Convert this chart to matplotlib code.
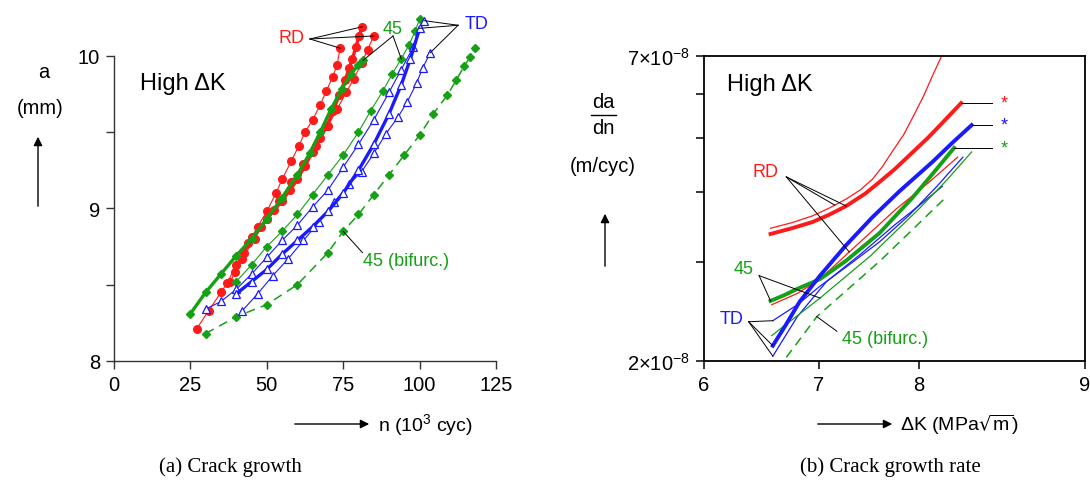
import numpy as np
import matplotlib
matplotlib.use('Agg')
import matplotlib.pyplot as plt

plt.rcParams['font.family'] = ['Liberation Sans', 'DejaVu Sans']
plt.rcParams['mathtext.fontset'] = 'dejavusans'
plt.rcParams['mathtext.default'] = 'regular'

RED = '#ff1a1a'
BLUE = '#1a1aff'
GREEN = '#16a016'

# ---- (a) crack growth: n (10^3 cyc) vs a (mm)
rd1_n = [27, 31, 35, 37, 40, 44, 47, 50, 53, 55, 58, 60.5, 62.5, 65, 67.5, 69.5, 71.5, 73, 74]
rd1_a = [8.21, 8.33, 8.45, 8.51, 8.63, 8.77, 8.88, 8.98, 9.10, 9.19, 9.31, 9.41, 9.50, 9.58, 9.68, 9.77, 9.86, 9.94, 10.05]
rd2_n = [39.6, 42.5, 45.2, 48, 50, 52.5, 55, 57.5, 60, 62.5, 65, 67.5, 69.7, 71.7, 73.7, 75.6, 77, 78, 79.2, 80.2, 81.2]
rd2_a = [8.58, 8.71, 8.81, 8.88, 8.93, 8.99, 9.05, 9.12, 9.19, 9.28, 9.37, 9.46, 9.54, 9.64, 9.74, 9.84, 9.92, 9.98, 10.06, 10.13, 10.19]
rd3_n = [38, 42, 46, 50, 54, 58, 62, 66, 70, 73, 76, 78.5, 81, 83, 85]
rd3_a = [8.52, 8.67, 8.80, 8.93, 9.05, 9.17, 9.29, 9.41, 9.54, 9.65, 9.76, 9.85, 9.95, 10.04, 10.13]

g1_n = [25, 30, 35, 40, 45, 50, 55, 60, 64, 67.5, 71, 74.5, 77.5, 80, 81.5]
g1_a = [8.31, 8.45, 8.57, 8.69, 8.80, 8.93, 9.07, 9.22, 9.36, 9.50, 9.65, 9.78, 9.88, 9.94, 9.97]
g2_n = [40, 45, 50, 55, 60, 65, 70, 75, 80, 84, 88, 91, 94, 96.5, 98.5, 100]
g2_a = [8.52, 8.63, 8.75, 8.85, 8.96, 9.09, 9.22, 9.35, 9.50, 9.64, 9.77, 9.88, 9.98, 10.07, 10.16, 10.24]
bif_n = [30, 40, 50, 60, 70, 75, 80, 85, 90, 95, 100, 104.5, 109, 112, 114.5, 116.5, 118]
bif_a = [8.18, 8.29, 8.37, 8.50, 8.71, 8.85, 8.96, 9.09, 9.22, 9.35, 9.48, 9.62, 9.74, 9.84, 9.93, 9.99, 10.05]

td1_n = [30, 35, 40, 45, 50, 55, 60, 65, 70, 75, 80, 85, 90, 94, 98, 101.5]
td1_a = [8.34, 8.39, 8.47, 8.57, 8.68, 8.79, 8.89, 9.01, 9.12, 9.27, 9.42, 9.58, 9.76, 9.91, 10.06, 10.23]
td2_n = [40, 45, 50, 55, 60, 65, 70, 75, 80, 85, 90, 94, 97, 100]
td2_a = [8.44, 8.52, 8.60, 8.70, 8.79, 8.88, 8.98, 9.10, 9.25, 9.42, 9.62, 9.81, 9.98, 10.18]
td3_n = [42, 47, 52, 57, 62, 67, 72, 77, 81, 85, 89, 93, 96, 99, 101, 103.5]
td3_a = [8.33, 8.44, 8.56, 8.67, 8.79, 8.91, 9.04, 9.16, 9.24, 9.36, 9.49, 9.60, 9.70, 9.82, 9.92, 10.02]

# ---- (b) crack growth rate: dK (MPa sqrt m) vs da/dn (1e-8 m/cyc)
rd_top_k = [6.56, 6.75, 6.94, 7.10, 7.26, 7.40, 7.52, 7.62, 7.72, 7.84, 7.94, 8.05, 8.15, 8.26]
rd_top_r = [3.45, 3.53, 3.63, 3.75, 3.89, 4.04, 4.22, 4.44, 4.72, 5.06, 5.45, 5.92, 6.45, 7.05]
rd_thick_k = [6.56, 6.75, 6.94, 7.10, 7.26, 7.45, 7.59, 7.75, 7.94, 8.10, 8.25, 8.47]
rd_thick_r = [3.37, 3.45, 3.54, 3.65, 3.78, 3.98, 4.17, 4.40, 4.72, 5.00, 5.30, 5.77]
rd_thin_k = [6.57, 6.80, 7.01, 7.29, 7.76, 8.10, 8.43]
rd_thin_r = [2.52, 2.64, 2.80, 3.13, 3.73, 4.15, 4.62]
td_thick_k = [6.58, 6.69, 6.82, 7.01, 7.26, 7.52, 7.80, 8.15, 8.37, 8.59]
td_thick_r = [2.13, 2.31, 2.55, 2.84, 3.22, 3.61, 4.02, 4.53, 4.90, 5.27]
td_thinA_k = [6.58, 6.80, 7.01, 7.30, 7.59, 7.90, 8.20, 8.49]
td_thinA_r = [2.36, 2.52, 2.72, 2.98, 3.26, 3.64, 4.10, 4.62]
td_thinB_k = [6.58, 6.80, 7.07, 7.40, 7.75, 8.00, 8.26]
td_thinB_r = [2.04, 2.40, 2.77, 3.10, 3.50, 3.78, 4.10]
g_thick_k = [6.56, 6.68, 6.80, 7.01, 7.26, 7.59, 7.94, 8.15, 8.39]
g_thick_r = [2.56, 2.62, 2.69, 2.80, 3.02, 3.38, 3.92, 4.31, 4.80]
g_thin_k = [6.57, 7.01, 7.50, 8.00, 8.30, 8.59]
g_thin_r = [2.22, 2.59, 3.08, 3.73, 4.19, 4.72]
bif_k = [6.70, 6.98, 7.60, 8.30]
bif_r = [2.03, 2.40, 3.02, 3.92]

a_ticks = [8, 9, 10]
n_ticks = [0, 25, 50, 75, 100, 125]
k_ticks = [6, 7, 8, 10]
k_labels = ['6', '7', '8', '9']
r_ticks = [2, 3, 4, 5, 6, 7]

W, H = 1090, 481
fig = plt.figure(figsize=(W / 100, H / 100), dpi=100)


def box(x0, y0, x1, y1):
    # pixel box (top-left origin) -> figure fraction
    return [x0 / W, 1 - y1 / H, (x1 - x0) / W, (y1 - y0) / H]


def px(x, y):
    return (x, H - y)


def arrow(x0, y0, x1, y1):
    fig.add_artist(matplotlib.patches.FancyArrowPatch(
        px(x0, y0), px(x1, y1), transform=None, arrowstyle='-|>',
        mutation_scale=13, lw=1.0, color='black'))


def ftext(x, y, s, **kw):
    fig.text(x / W, 1 - y / H, s, **kw)


# ================= (a)
ax1 = fig.add_axes(box(114, 11, 496, 362))
ax1.set_xlim(0, 125)
ax1.set_ylim(8, 10.3)
for s in ['top', 'right']:
    ax1.spines[s].set_visible(False)
ax1.spines['left'].set_bounds(8, 10)
ax1.spines['bottom'].set_bounds(0, 125)
for s in ['left', 'bottom']:
    ax1.spines[s].set_color('#333333')
    ax1.spines[s].set_linewidth(1.0)
ax1.set_xticks(n_ticks)
ax1.set_yticks(a_ticks)
ax1.set_yticks([8.5, 9.5], minor=True)
ax1.tick_params(which='both', direction='out', length=6, width=1, color='#333333',
                labelsize=14.5, pad=4)

thin, thick = 0.8, 2.4
for n, a in [(rd1_n, rd1_a), (rd3_n, rd3_a)]:
    ax1.plot(n, a, '-o', color=RED, lw=thin, ms=5.5, mec=RED)
ax1.plot(rd2_n, rd2_a, '-o', color=RED, lw=thick, ms=5.5, mec=RED)
ax1.plot(g2_n, g2_a, '-D', color=GREEN, lw=thin, ms=4, mec=GREEN)
ax1.plot(g1_n, g1_a, '-D', color=GREEN, lw=thick, ms=4, mec=GREEN)
ax1.plot(bif_n, bif_a, '--D', color=GREEN, lw=1.1, ms=4.5, mec=GREEN, dashes=(6, 4))
for n, a in [(td1_n, td1_a), (td3_n, td3_a)]:
    ax1.plot(n, a, '-^', color=BLUE, lw=thin, ms=6, mfc='white', mew=0.9)
ax1.plot(td2_n, td2_a, '-^', color=BLUE, lw=thick, ms=6, mfc='white', mew=0.9)

ax1.text(8.5, 9.82, 'High ΔK', fontsize=17, va='center')
lk = dict(color='black', lw=0.7)
ax1.text(62.5, 10.12, 'RD', color=RED, fontsize=13, ha='right', va='center')
for n, a in [(rd1_n, rd1_a), (rd2_n, rd2_a), (rd3_n, rd3_a)]:
    ax1.plot([64.1, n[-1]], [10.11, a[-1]], **lk)
ax1.text(91.3, 10.18, '45', color=GREEN, fontsize=13, ha='center', va='center')
ax1.plot([91.3, g1_n[-1]], [10.13, g1_a[-1]], **lk)
ax1.plot([91.3, 94], [10.13, np.interp(94, g2_n, g2_a)], **lk)
ax1.text(118.8, 10.21, 'TD', color=BLUE, fontsize=13, ha='center', va='center')
for n, a in [(td1_n, td1_a), (td2_n, td2_a), (td3_n, td3_a)]:
    ax1.plot([112.6, n[-1]], [10.20, a[-1]], **lk)
ax1.text(81.5, 8.66, '45 (bifurc.)', color=GREEN, fontsize=13, va='center')
ax1.plot([81.3, 75], [8.71, np.interp(75, bif_n, bif_a)], **lk)

ftext(44, 72, 'a', fontsize=14.5, ha='center', va='center')
ftext(40, 108, '(mm)', fontsize=14.5, ha='center', va='center')
arrow(38, 210, 38, 135)
arrow(292, 425, 372, 425)
ftext(378, 425, 'n (10$^{3}$ cyc)', fontsize=14, va='center')
ftext(230, 467, '(a) Crack growth', fontsize=15, ha='center', va='center',
      family='Liberation Serif')

# ================= (b)
ax2 = fig.add_axes(box(704, 57, 1085, 362))
ax2.set_xscale('log')
ax2.set_yscale('log')
ax2.set_xlim(6, 10)
ax2.set_ylim(2e-8, 7e-8)
ax2.minorticks_off()
ax2.set_xticks(k_ticks)
ax2.set_xticklabels(k_labels)
ax2.set_yticks([r * 1e-8 for r in r_ticks])
ax2.set_yticklabels(['2×10$^{-8}$', '', '', '', '', '7×10$^{-8}$'])
ax2.minorticks_off()
for s in ax2.spines.values():
    s.set_linewidth(1.3)
ax2.tick_params(direction='out', length=6, width=1.1, labelsize=14.5, pad=4)


def sc(v):
    return [x * 1e-8 for x in v]


ax2.plot(rd_top_k, sc(rd_top_r), color=RED, lw=0.9)
ax2.plot(rd_thin_k, sc(rd_thin_r), color=RED, lw=0.9)
ax2.plot(td_thinA_k, sc(td_thinA_r), color=BLUE, lw=0.9)
ax2.plot(td_thinB_k, sc(td_thinB_r), color=BLUE, lw=0.9)
ax2.plot(g_thin_k, sc(g_thin_r), color=GREEN, lw=0.9)
ax2.plot(bif_k, sc(bif_r), color=GREEN, lw=1.1, ls=(0, (6, 4)))
ax2.plot(rd_thick_k, sc(rd_thick_r), color=RED, lw=2.8)
ax2.plot(g_thick_k, sc(g_thick_r), color=GREEN, lw=2.8)
ax2.plot(td_thick_k, sc(td_thick_r), color=BLUE, lw=2.8)


def on(k, r, x):
    return 1e-8 * 10 ** np.interp(np.log10(x), np.log10(k), np.log10(r))


ax2.text(6.19, 6.24e-8, 'High ΔK', fontsize=17, va='center')
for k, r, c in [(rd_thick_k, rd_thick_r, RED), (td_thick_k, td_thick_r, BLUE),
                (g_thick_k, g_thick_r, GREEN)]:
    ax2.plot([k[-1], 8.83], [r[-1] * 1e-8] * 2, **lk)
    ax2.text(8.97, r[-1] * 1e-8, '*', color=c, fontsize=13, ha='center', va='center')

ax2.text(6.52, 4.36e-8, 'RD', color=RED, fontsize=13, ha='center', va='center')
for k, r, x in [(rd_top_k, rd_top_r, 7.15), (rd_thick_k, rd_thick_r, 7.26),
                (rd_thin_k, rd_thin_r, 7.29)]:
    ax2.plot([6.70, x], [4.26e-8, on(k, r, x)], **lk)
ax2.text(6.33, 2.92e-8, '45', color=GREEN, fontsize=13, ha='center', va='center')
ax2.plot([6.46, g_thick_k[0]], [2.84e-8, g_thick_r[0] * 1e-8], **lk)
ax2.plot([6.46, 7.01], [2.84e-8, on(g_thin_k, g_thin_r, 7.01)], **lk)
ax2.text(6.23, 2.38e-8, 'TD', color=BLUE, fontsize=13, ha='center', va='center')
for k, r in [(td_thinA_k, td_thinA_r), (td_thick_k, td_thick_r), (td_thinB_k, td_thinB_r)]:
    ax2.plot([6.37, k[0]], [2.35e-8, r[0] * 1e-8], **lk)
ax2.text(7.65, 2.19e-8, '45 (bifurc.)', color=GREEN, fontsize=13, ha='center', va='center')
ax2.plot([7.17, 6.98], [2.26e-8, on(bif_k, bif_r, 6.98)], **lk)

ftext(603, 103, 'da', fontsize=14.5, ha='center', va='center')
fig.add_artist(matplotlib.lines.Line2D([591 / W, 616 / W], [1 - 116 / H] * 2,
                                       color='black', lw=1.0))
ftext(603, 129, 'dn', fontsize=14.5, ha='center', va='center')
ftext(603, 167, '(m/cyc)', fontsize=14.5, ha='center', va='center')
arrow(605, 270, 605, 212)
arrow(815, 425, 895, 425)
ftext(900, 425, r'ΔK (MPa$\sqrt{\mathregular{m}}$)', fontsize=14, va='center')
ftext(890, 467, '(b) Crack growth rate', fontsize=15, ha='center', va='center',
      family='Liberation Serif')

fig.savefig('out.png', dpi=100)
